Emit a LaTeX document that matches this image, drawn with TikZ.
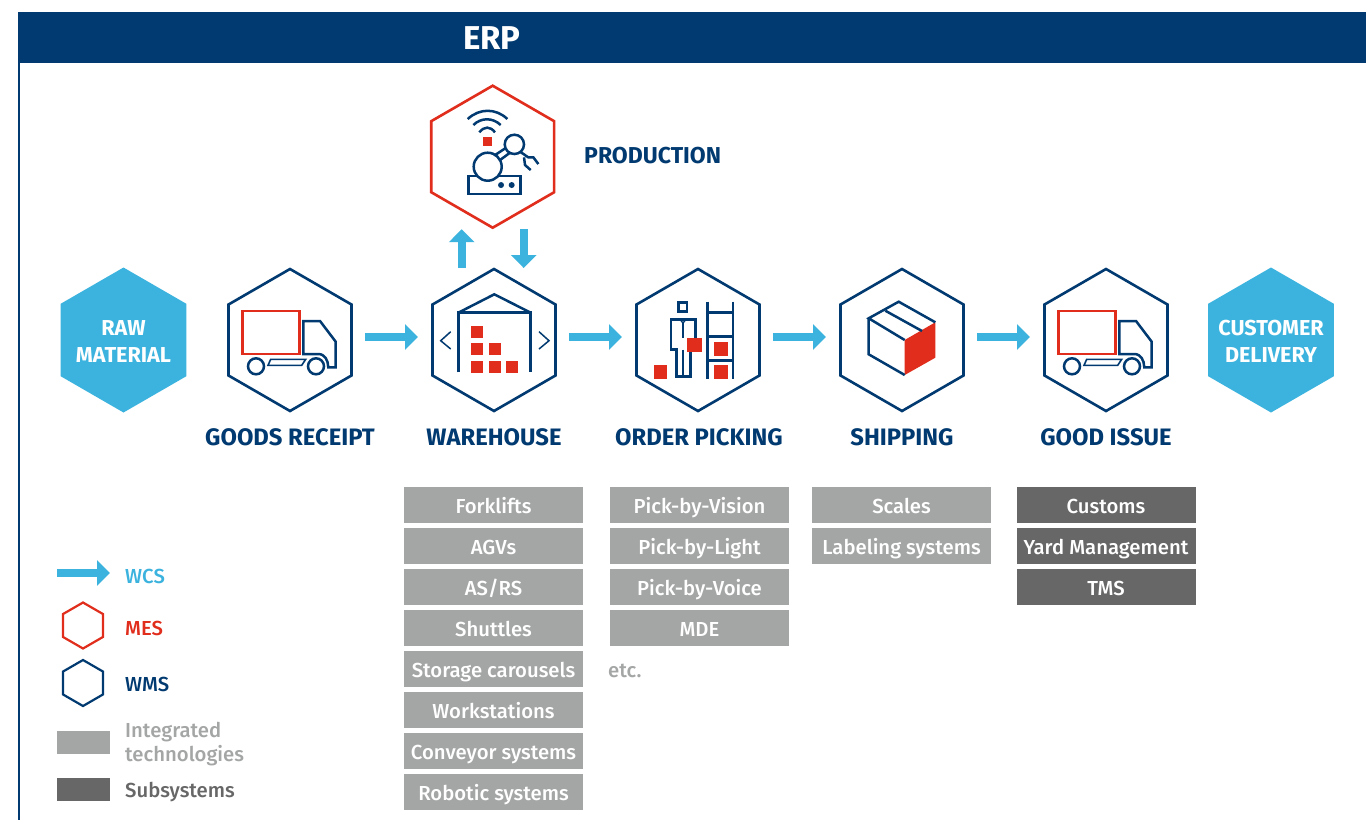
\documentclass[tikz,border=0pt]{standalone}
\usepackage{fontspec}
\setmainfont{Fira Sans}
\newfontfamily\medfont{Fira Sans Medium}
\usetikzlibrary{shapes.geometric,arrows.meta}
\definecolor{navy}{HTML}{003A70}
\definecolor{mesred}{HTML}{E02D1C}
\definecolor{wcsblue}{HTML}{3BB3DE}
\definecolor{techgrey}{HTML}{A4A5A5}
\definecolor{subgrey}{HTML}{676767}
\tikzset{
  hexbase/.style={regular polygon,regular polygon sides=6,shape border rotate=30,inner sep=0pt,outer sep=0pt,minimum size=142pt},
  wmshex/.style={hexbase,draw=navy,line width=2.6pt,fill=white},
  meshex/.style={hexbase,draw=mesred,line width=2.6pt,fill=white},
  endhex/.style={hexbase,fill=wcsblue,minimum size=145pt},
  endlabel/.style={text=white,align=center,inner sep=0pt,font=\fontsize{21.6}{27}\selectfont\bfseries},
  smallhex/.style={hexbase,minimum size=46pt,fill=white,line width=2.2pt},
  wcsarrow/.style={draw=wcsblue,fill=none,line width=8pt,-{Triangle[width=25pt,length=13pt,fill=wcsblue]}},
  steplabel/.style={text=navy,anchor=base,font=\fontsize{23.8}{26}\selectfont\bfseries},
  techbox/.style={minimum width=179pt,minimum height=36pt,inner sep=0pt,outer sep=0pt,text=white,font=\fontsize{20.3}{22}\medfont,text height=16pt,text depth=0pt},
  tech/.style={techbox,fill=techgrey},
  subs/.style={techbox,fill=subgrey},
  legendtext/.style={anchor=base west,inner sep=0pt,font=\fontsize{20.3}{24}\medfont},
  iconline/.style={draw=navy,line width=2.5pt,line join=miter},
  redsq/.style={fill=mesred,draw=none}
}
\newcommand{\truckicon}[2]{%
  \begin{scope}[shift={(#1,#2)}]
    \draw[draw=mesred,line width=2.5pt] (-47.3,-29) rectangle (9.3,14);
    \draw[iconline] (13.3,14) -- (13.3,-19) -- (30,-19) -- (45.7,1.7) -- (45.7,27.3) -- (38.3,27.3) .. controls (38,20) and (35,14) .. (28,14) -- cycle;
    \draw[iconline] (-34,26.3) circle (8);
    \draw[iconline] (26,26.3) circle (8);
    \draw[iconline,line width=1.6pt] (-19.3,19.3) -- (15.7,19.3) -- (11.7,25.3) -- (-22,25.3) -- cycle;
  \end{scope}}
\begin{document}
\begin{tikzpicture}[x=1pt,y=-1pt]
\useasboundingbox (0,0) rectangle (1366,820);
\fill[white] (0,0) rectangle (1366,820);
% ERP band
\node[fill=navy,minimum width=1348pt,minimum height=51pt,inner sep=0pt,anchor=north west] (erp) at (18,12) {};
\node[text=white,anchor=base west,inner sep=0pt,font=\fontsize{33}{36}\selectfont\bfseries] (erplabel) at (463,49) {ERP};
\draw[navy,line width=2.4pt] (19,63) -- (19,820);
% hexagons
\node[meshex] (prod) at (492.7,156.7) {};
\node[endhex] (raw) at (123.5,340) {};
\node[endlabel,yshift=-1.5pt] (rawl) at (raw) {RAW\\MATERIAL};
\node[wmshex] (gr) at (290,340) {};
\node[wmshex] (wh) at (494,340) {};
\node[wmshex] (op) at (698,340) {};
\node[wmshex] (sh) at (902,340) {};
\node[wmshex] (gi) at (1106,340) {};
\node[endhex] (cust) at (1271,340) {};
\node[endlabel,yshift=-1.5pt] (custl) at (cust) {CUSTOMER\\DELIVERY};
% labels
\node[text=navy,anchor=base west,inner sep=0pt,font=\fontsize{23}{26}\selectfont\bfseries] (prodlabel) at (584,163) {PRODUCTION};
\node[steplabel] (grl) at (290,445) {GOODS RECEIPT};
\node[steplabel] (whl) at (494,445) {WAREHOUSE};
\node[steplabel] (opl) at (699,445) {ORDER PICKING};
\node[steplabel] (shl) at (902,445) {SHIPPING};
\node[steplabel] (gil) at (1106,445) {GOOD ISSUE};
% connectors
\foreach \a/\b in {gr/wh,wh/op,op/sh,sh/gi}{
  \draw[wcsarrow,shorten <=13.5pt,shorten >=14.5pt] ([yshift=3pt]\a.east) -- ([yshift=3pt]\b.west);
}
\draw[wcsarrow,shorten <=1pt,shorten >=1.5pt] ([xshift=-32.3pt]wh.north) -- ([xshift=-31pt]prod.south);
\draw[wcsarrow,shorten <=1.5pt,shorten >=1pt] ([xshift=31pt]prod.south) -- ([xshift=29.7pt]wh.north);
% truck icons
\truckicon{290}{340}
\truckicon{1106}{340}
% warehouse icon
\begin{scope}[shift={(494,340)}]
  \draw[iconline] (-35.7,32.3) -- (-35.7,-27.3) -- (36.7,-27.3) -- (36.7,32.3);
  \draw[iconline] (-35.7,-27.3) -- (0.3,-45.7) -- (36.7,-27.3);
  \foreach \x/\y in {-23.3/-14,-23.3/3,-5.3/3,-23.3/21,-5.3/21,11.7/21}{
    \fill[redsq] (\x,\y) rectangle ++(12,12);
  }
  \draw[navy,line width=1.5pt] (-43.3,-8.3) -- (-53.3,0.7) -- (-43.3,9);
  \draw[navy,line width=1.5pt] (45,-8.3) -- (55,0.7) -- (45,9);
\end{scope}
% picking icon
\begin{scope}[shift={(698,340)}]
  \draw[iconline] (-19.3,-37.3) rectangle (-11,-28.3);
  \draw[iconline] (-2.7,-2) -- (-2.7,-20.7) -- (-27,-20.7) -- (-27,9.3) -- (-21.7,9.3) -- (-21.7,36.7) -- (-7.7,36.7) -- (-7.7,9.3);
  \draw[iconline,line width=1.4pt] (-15,9.7) -- (-15,36.7);
  \draw[iconline,line width=1.4pt] (-15,-18) -- (-15,-1.7);
  \draw[iconline,line width=1.4pt] (-18,-20.7) -- (-15,-17) -- (-12,-20.7);
  \draw[iconline] (9.7,-38.3) -- (9.7,38.7);
  \draw[iconline] (35,-38.3) -- (35,38.7);
  \foreach \y in {-27.3,-3.3,20.7}{ \draw[iconline] (9.7,\y) -- (35,\y); }
  \fill[redsq] (-10.7,-2) rectangle (3.7,12);
  \fill[redsq] (-44.3,25) rectangle (-31.3,38.7);
  \fill[redsq] (15.7,2) rectangle (29.7,16);
  \fill[redsq] (15.7,25) rectangle (29.7,38.7);
\end{scope}
% box icon
\begin{scope}[shift={(902,340)}]
  \fill[redsq] (2.7,0) -- (33.3,-17.7) -- (33.3,17.7) -- (2.7,35) -- cycle;
  \draw[iconline] (2.7,0) -- (-33.3,-21.7) -- (-3.3,-38.3) -- (33.3,-17.7);
  \draw[iconline] (-33.3,-21.7) -- (-33.3,14.3) -- (2.7,35);
  \draw[iconline] (-16.7,-29.3) -- (20,-9);
\end{scope}
% production icon
\begin{scope}[shift={(492.7,156.7)},x=0.3333pt,y=-0.3333pt]
  \fill[redsq] (-28,-59) rectangle (-2,-32);
  \draw[iconline] (-75,-113) .. controls (-40,-146) and (10,-146) .. (44,-113);
  \draw[iconline] (-58,-95) .. controls (-35,-118) and (0,-118) .. (24,-95);
  \draw[iconline] (-40,-73) .. controls (-25,-92) and (-8,-92) .. (7,-73);
  \draw[iconline] (-73,58) rectangle (84,112);
  \draw[iconline,fill=white] (-15,30) circle (42);
  \draw[iconline] (7,-5) -- (42,-28);
  \draw[iconline] (22,10) -- (52,-12);
  \draw[iconline,fill=white] (65,-37) circle (29);
  \draw[iconline] (82,-15) -- (107,2) -- (122,2) -- (137,22);
  \draw[iconline] (94,2) -- (97,25) -- (114,40);
  \fill[navy] (25,85) circle (9);
  \fill[navy] (57,85) circle (9);
\end{scope}
% technology boxes
\foreach \t [count=\i from 0] in {Forklifts,AGVs,AS/RS,Shuttles,Storage carousels,Workstations,Conveyor systems,Robotic systems}{
  \node[tech] (wh\i) at (493.5,505+41*\i) {\t};
}
\foreach \t [count=\i from 0] in {Pick-by-Vision,Pick-by-Light,Pick-by-Voice,MDE}{
  \node[tech] (op\i) at (699.5,505+41*\i) {\t};
}
\foreach \t [count=\i from 0] in {Scales,Labeling systems}{
  \node[tech] (sh\i) at (901.5,505+41*\i) {\t};
}
\foreach \t [count=\i from 0] in {Customs,Yard Management,TMS}{
  \node[subs] (gi\i) at (1106,505+41*\i) {\t};
}
\node[legendtext,text=techgrey] (etc) at (608,677) {etc.};
% legend
\coordinate (lega) at (57,573);
\coordinate (legb) at (110,573);
\draw[wcsarrow] (lega) -- (legb);
\node[legendtext,text=wcsblue] (lwcs) at (125,583) {WCS};
\node[smallhex,draw=mesred] (lmes) at (83,625.5) {};
\node[legendtext,text=mesred] (lmestext) at (125,635) {MES};
\node[smallhex,draw=navy] (lwms) at (83,683) {};
\node[legendtext,text=navy] (lwmstext) at (125,691) {WMS};
\node[fill=techgrey,minimum width=53pt,minimum height=23pt,inner sep=0pt,anchor=north west] (ltech) at (57,731) {};
\node[legendtext,text=techgrey] (ltech1) at (125,737) {Integrated};
\node[legendtext,text=techgrey] (ltech2) at (125,761) {technologies};
\node[fill=subgrey,minimum width=53pt,minimum height=23pt,inner sep=0pt,anchor=north west] (lsub) at (57,778) {};
\node[legendtext,text=subgrey] (lsubt) at (125,797) {Subsystems};
\end{tikzpicture}
\end{document}
